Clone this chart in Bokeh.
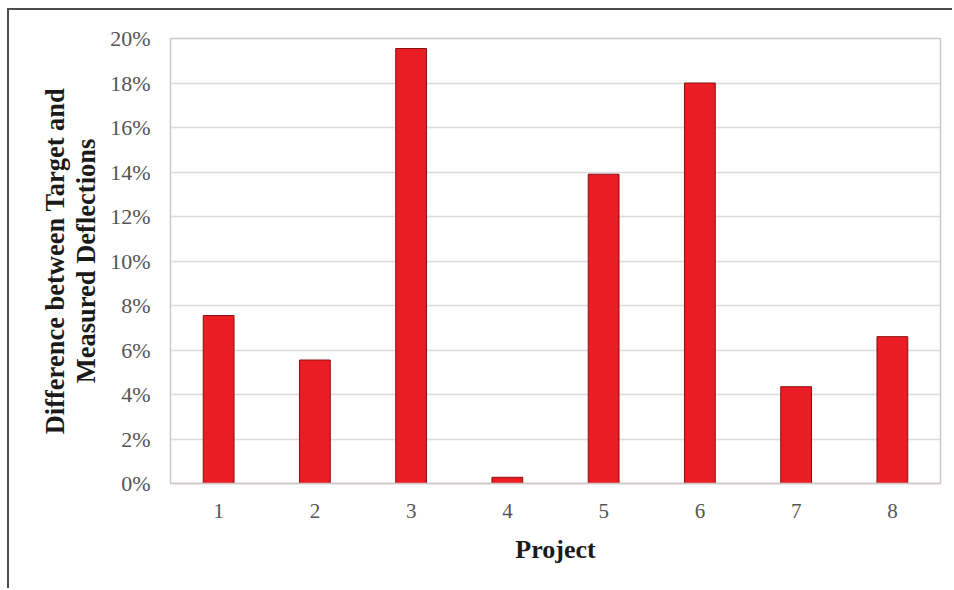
from bokeh.plotting import figure
from bokeh.models import FactorRange, Range1d, SingleIntervalTicker, PrintfTickFormatter
from bokeh.embed import file_html
from bokeh.resources import INLINE

# Deflection differences per project (percent)
projects = ["1", "2", "3", "4", "5", "6", "7", "8"]
difference_pct = [7.55, 5.55, 19.55, 0.28, 13.9, 18.0, 4.35, 6.6]

y_ticks_step = 2
y_max = 20

SERIF = "Liberation Serif"

p = figure(
    width=945, height=580,
    x_range=FactorRange(*projects, range_padding=0),
    y_range=Range1d(0, y_max),
    output_backend="svg", toolbar_location=None,
    min_border_left=161, min_border_right=14,
    min_border_top=28, min_border_bottom=107,
)
p.margin = (8, 0, 0, 7)
p.styles = {"border-top": "2px solid #4d4d4d", "border-left": "2px solid #4d4d4d"}

p.vbar(x=projects, top=difference_pct, width=0.32,
       fill_color="#ec1c24", line_color="#8a1010", line_width=1)

# frame and grid
p.outline_line_color = "#cfc8c6"
p.outline_line_width = 1.5
p.xgrid.grid_line_color = None
p.ygrid.grid_line_color = "#dcdcdc"
p.ygrid.grid_line_width = 1.5
p.background_fill_color = "white"
p.border_fill_color = "white"

# y axis
p.yaxis.ticker = SingleIntervalTicker(interval=y_ticks_step)
p.yaxis.formatter = PrintfTickFormatter(format="%d%%")
p.yaxis.axis_line_color = None
p.yaxis.major_tick_line_color = None
p.yaxis.minor_tick_line_color = None
p.yaxis.major_label_text_font = SERIF
p.yaxis.major_label_text_font_size = "22px"
p.yaxis.major_label_text_color = "#555555"
p.yaxis.major_label_standoff = 14
p.yaxis.axis_label = "Difference between Target and\nMeasured Deflections"
p.yaxis.axis_label_text_font = SERIF
p.yaxis.axis_label_text_font_style = "bold"
p.yaxis.axis_label_text_font_size = "26.5px"
p.yaxis.axis_label_text_color = "#1a1a1a"
p.yaxis.axis_label_text_line_height = 1.05
p.yaxis.axis_label_standoff = 6

# x axis
p.xaxis.axis_line_color = "#cfc8c6"
p.xaxis.axis_line_width = 1.5
p.xaxis.major_tick_line_color = None
p.xaxis.minor_tick_line_color = None
p.xaxis.major_label_text_font = SERIF
p.xaxis.major_label_text_font_size = "21px"
p.xaxis.major_label_text_color = "#555555"
p.xaxis.major_label_standoff = 14
p.xaxis.axis_label = "Project"
p.xaxis.axis_label_text_font = SERIF
p.xaxis.axis_label_text_font_style = "bold"
p.xaxis.axis_label_text_font_size = "26px"
p.xaxis.axis_label_text_color = "#1a1a1a"
p.xaxis.axis_label_standoff = 14

open("out.html", "w").write(file_html(p, INLINE))
